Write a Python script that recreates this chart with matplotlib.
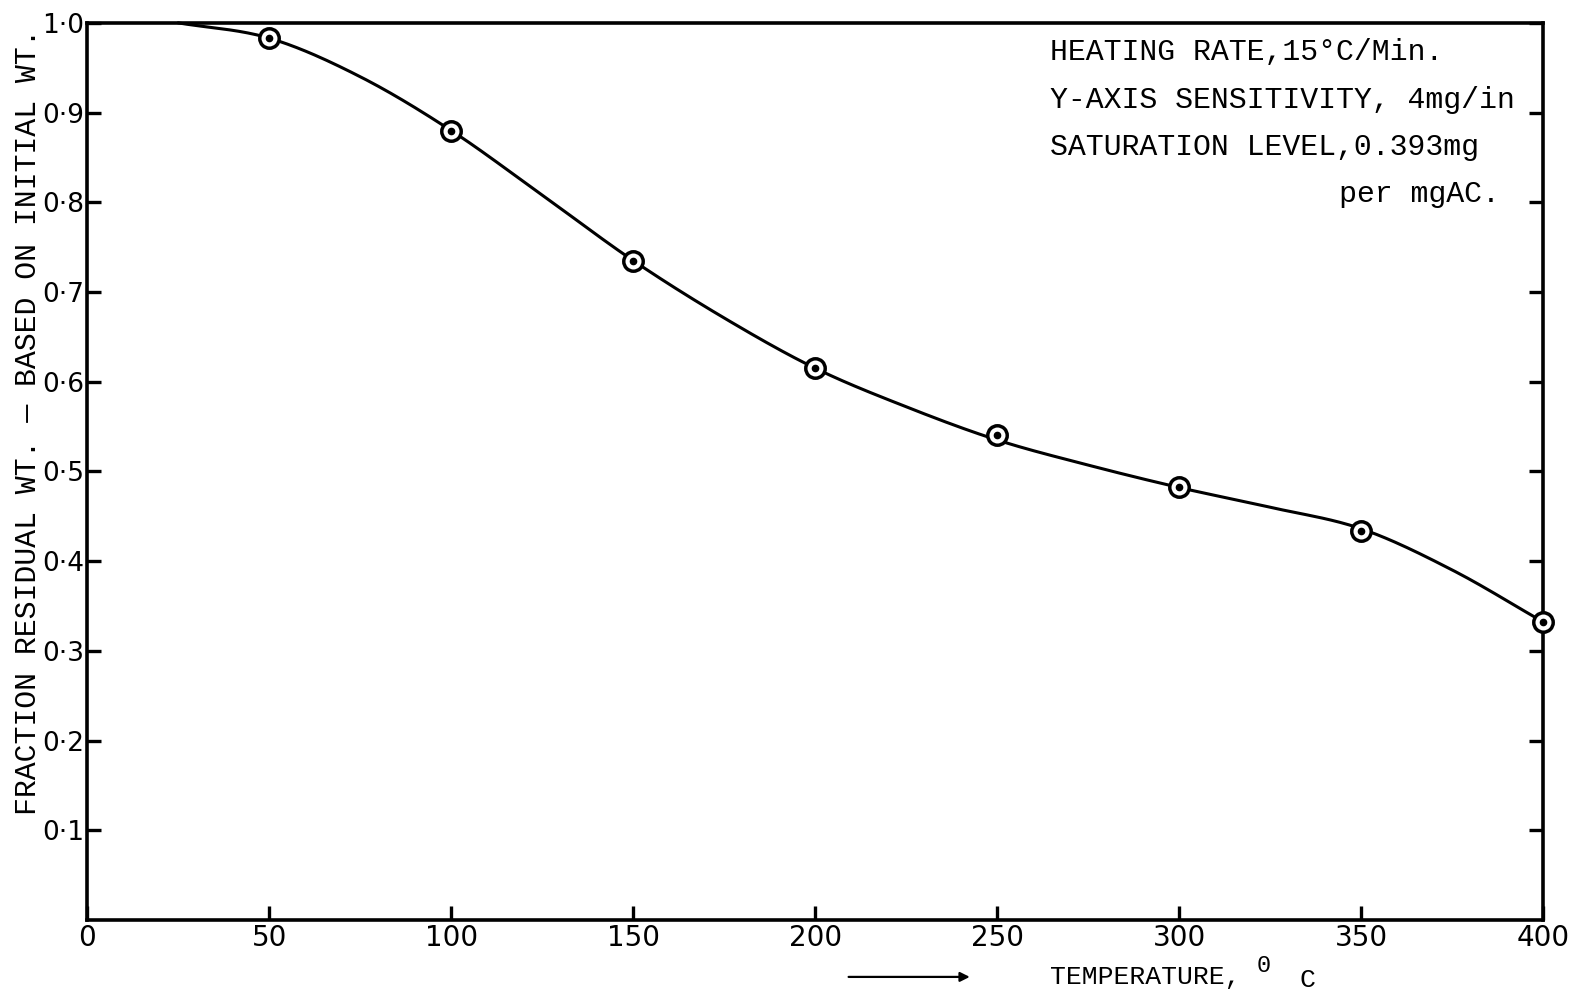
import numpy as np
import matplotlib
matplotlib.use("Agg")
import matplotlib.pyplot as plt

# pontos medidos (temperatura em C, fracao residual)
temp_pts = [50, 100, 150, 200, 250, 300, 350, 400]
frac_pts = [0.983, 0.880, 0.735, 0.615, 0.541, 0.483, 0.434, 0.332]

# curva ajustada a mao, lida em passos de 25 C
curve_t = [25, 50, 75, 100, 125, 150, 175, 200, 225, 250, 275, 300, 325, 350, 375, 400]
curve_f = [1.0, 0.983, 0.940, 0.880, 0.808, 0.735, 0.671, 0.615, 0.572, 0.535,
           0.507, 0.482, 0.460, 0.436, 0.390, 0.332]

x_ticks = [0, 50, 100, 150, 200, 250, 300, 350, 400]
x_ticklabels = ["0", "50", "100", "150", "200", "250", "300", "350", "400"]
y_ticks = [0.1, 0.2, 0.3, 0.4, 0.5, 0.6, 0.7, 0.8, 0.9, 1.0]
y_ticklabels = ["0·1", "0·2", "0·3", "0·4", "0·5", "0·6", "0·7", "0·8", "0·9", "1·0"]

notes = ["HEATING RATE,15°C/Min.",
         "Y-AXIS SENSITIVITY, 4mg/in",
         "SATURATION LEVEL,0.393mg"]
note_last = "per mgAC."


def catmull_rom(xs, ys, n=30):
    # suaviza a curva passando pelos pontos lidos
    xs = np.asarray(xs, float)
    ys = np.asarray(ys, float)
    px = np.concatenate([[2 * xs[0] - xs[1]], xs, [2 * xs[-1] - xs[-2]]])
    py = np.concatenate([[2 * ys[0] - ys[1]], ys, [2 * ys[-1] - ys[-2]]])
    out_x, out_y = [], []
    t = np.linspace(0, 1, n, endpoint=False)
    for i in range(1, len(px) - 2):
        for arr, out in ((px, out_x), (py, out_y)):
            p0, p1, p2, p3 = arr[i - 1], arr[i], arr[i + 1], arr[i + 2]
            out.extend(0.5 * ((2 * p1) + (-p0 + p2) * t
                              + (2 * p0 - 5 * p1 + 4 * p2 - p3) * t ** 2
                              + (-p0 + 3 * p1 - 3 * p2 + p3) * t ** 3))
    out_x.append(xs[-1])
    out_y.append(ys[-1])
    return np.array(out_x), np.array(out_y)


mono = "Liberation Mono"
digits = "DejaVu Sans"

fig = plt.figure(figsize=(15.83, 9.94), dpi=100)
ax = fig.add_axes([0.055, 0.0745, 0.920, 0.9025])

cx, cy = catmull_rom(curve_t, curve_f)
ax.plot(cx, cy, color="black", lw=2.2, solid_capstyle="round", clip_on=False)
ax.plot(temp_pts, frac_pts, "o", ms=14, mfc="white", mec="black", mew=2.5,
        clip_on=False, zorder=3)
ax.plot(temp_pts, frac_pts, "o", ms=4.5, color="black", clip_on=False, zorder=4)

ax.set_xlim(0, 400)
ax.set_ylim(0, 1.0)
ax.set_xticks(x_ticks)
ax.set_xticklabels(x_ticklabels, fontsize=20, family=digits)
ax.set_yticks(y_ticks)
ax.set_yticklabels(y_ticklabels, fontsize=19, family=digits)

for s in ax.spines.values():
    s.set_linewidth(2.6)
ax.tick_params(axis="both", direction="in", length=10, width=2.4,
               right=True, top=False)
ax.tick_params(axis="x", pad=3)
ax.tick_params(axis="y", pad=2)

ax.set_ylabel("FRACTION RESIDUAL WT. — BASED ON INITIAL WT.",
              fontsize=21.5, family=mono)
ax.yaxis.set_label_coords(-0.031, 0.555)

# rotulo do eixo x com seta
ax.annotate("", xy=(0.608, -0.0635), xytext=(0.521, -0.0635),
            xycoords="axes fraction",
            arrowprops=dict(arrowstyle="-|>", color="black", lw=1.6,
                            mutation_scale=14))
ax.text(0.661, -0.0635, "TEMPERATURE,", transform=ax.transAxes, fontsize=19,
        family=mono, ha="left", va="center")
ax.text(0.808, -0.051, "0", transform=ax.transAxes, fontsize=17,
        family=mono, ha="center", va="center")
ax.text(0.838, -0.067, "C", transform=ax.transAxes, fontsize=19,
        family=mono, ha="center", va="center")

# anotacoes das condicoes do ensaio
for i, line in enumerate(notes):
    ax.text(0.661, 0.967 - i * 0.0527, line, transform=ax.transAxes,
            fontsize=21.5, family=mono, ha="left", va="center")
ax.text(0.970, 0.967 - 3 * 0.0527, note_last, transform=ax.transAxes,
        fontsize=21.5, family=mono, ha="right", va="center")

fig.savefig("out.png", dpi=100)
